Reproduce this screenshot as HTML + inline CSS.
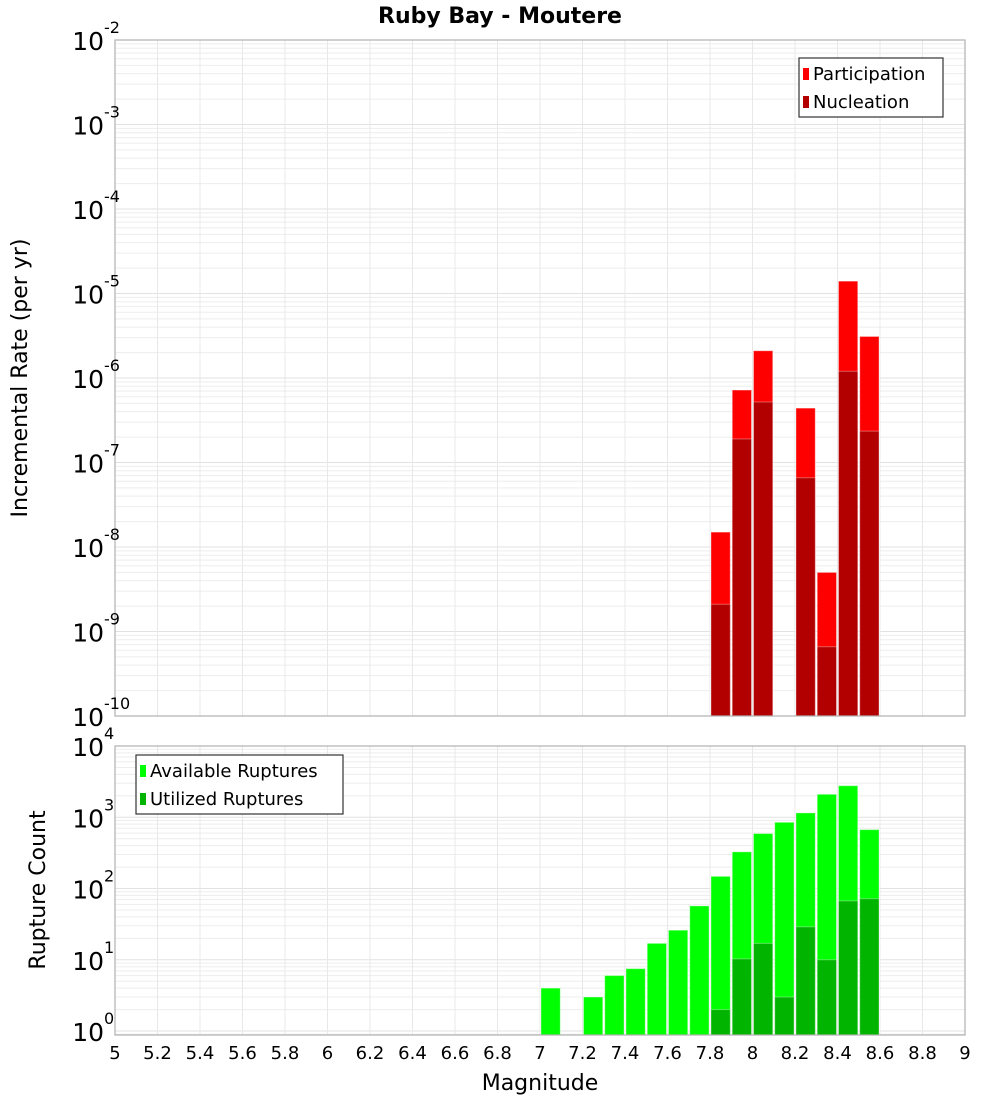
<!DOCTYPE html>
<html><head><meta charset="utf-8"><style>
body{margin:0;background:#fff;font-family:"DejaVu Sans","Liberation Sans",sans-serif;}
svg text{font-family:"DejaVu Sans","Liberation Sans",sans-serif;}
</style></head><body>
<svg id="chart" width="1000" height="1100" xmlns="http://www.w3.org/2000/svg"></svg>
<script>
const mags = [7.0,7.2,7.3,7.4,7.5,7.6,7.7,7.8,7.9,8.0,8.1,8.2,8.3,8.4,8.5];
const rateMags = [7.8,7.9,8.0,8.2,8.3,8.4,8.5];
const participation = [1.5e-8,7.2e-7,2.1e-6,4.4e-7,5e-9,1.4e-5,3.1e-6];
const nucleation = [2.1e-9,1.9e-7,5.2e-7,6.6e-8,6.6e-10,1.2e-6,2.35e-7];
const available = [4,3,6,7.5,17,26,57,148,327,590,850,1150,2100,2770,670];
const utilizedMags = [7.8,7.9,8.0,8.1,8.2,8.3,8.4,8.5];
const utilized = [2,10.3,17,3,29,10,67,72];
const xTicks = [5,5.2,5.4,5.6,5.8,6,6.2,6.4,6.6,6.8,7,7.2,7.4,7.6,7.8,8,8.2,8.4,8.6,8.8,9];
const topExps = [-2,-3,-4,-5,-6,-7,-8,-9,-10];
const botExps = [4,3,2,1,0];

const NS="http://www.w3.org/2000/svg";
const svg=document.getElementById('chart');
function el(tag,attrs,parent){const e=document.createElementNS(NS,tag);for(const k in attrs)e.setAttribute(k,attrs[k]);(parent||svg).appendChild(e);return e;}
const X0=115,X1=965;
const xs=m=>X0+(m-5)/4*(X1-X0);
const topY={y0:40,y1:716,lmin:-10,lmax:-2};
const botY={y0:746,y1:1035,lmin:Math.log10(0.88),lmax:4};
function ys(ax,v){return ax.y1-(Math.log10(v)-ax.lmin)/(ax.lmax-ax.lmin)*(ax.y1-ax.y0);}

function panel(ax,name){
  const g=el('g',{});
  
  
  el('rect',{x:X0,y:ax.y0,width:X1-X0,height:ax.y1-ax.y0,fill:'#fff'},g);
  for(let d=Math.floor(ax.lmin);d<ax.lmax;d++){
    for(let k=1;k<10;k++){const v=k*Math.pow(10,d);const lv=Math.log10(v);if(lv<ax.lmin||lv>ax.lmax)continue;
      const y=ys(ax,v);el('line',{x1:X0,x2:X1,y1:y,y2:y,stroke:k==1?'#e2e2e2':'#ededed','stroke-width':1},g);}
  }
  xTicks.forEach(t=>{const x=xs(t);el('line',{x1:x,x2:x,y1:ax.y0,y2:ax.y1,stroke:'#e8e8e8','stroke-width':1},g);});
}
function frame(ax,name){const r=el('rect',{x:X0,y:ax.y0,width:X1-X0,height:ax.y1-ax.y0,fill:'none',stroke:'#b0b0b0','stroke-width':1.2});
  }
function bars(ax,ms,vals,color,name){
  const g=el('g',{});
  ms.forEach((m,i)=>{const xa=xs(m)+1,xb=xs(m+0.1)-1;const y=ys(ax,vals[i]);
    const r=el('rect',{x:xa,y:y,width:xb-xa,height:ax.y1-y,fill:color,stroke:'rgba(255,255,255,0.35)','stroke-width':1},g);
    });
}
function yLabels(ax,exps,name){
  exps.forEach(e=>{const y=ys(ax,Math.pow(10,e));
    const t=el('text',{x:104,y:y+10,'text-anchor':'end','font-size':25,fill:'#000'});
    
    t.textContent='10';
    const s=el('text',{x:104,y:y-7,'font-size':16,fill:'#000'});
    
    s.textContent=String(e);});
}
function legend(x,y,w,items,name){
  const g=el('g',{});
  el('rect',{x:x,y:y,width:w,height:59,fill:'#fff',stroke:'#333','stroke-width':1.2},g);
  items.forEach((it,i)=>{const yy=y+15+i*28;
    el('rect',{x:x+4,y:yy-5,width:6,height:12,fill:it[1]},g);
    const t=el('text',{x:x+14,y:yy+7,'font-size':18,fill:'#000'},g);
    
    t.textContent=it[0];});
}
panel(topY,'top');panel(botY,'bottom');
bars(topY,rateMags,participation,'#ff0000','participation');
bars(topY,rateMags,nucleation,'#b20000','nucleation');
bars(botY,mags,available,'#00ff00','available');
bars(botY,utilizedMags,utilized,'#00b400','utilized');
frame(topY,'top');frame(botY,'bottom');
yLabels(topY,topExps,'top-y');yLabels(botY,botExps,'bottom-y');
xTicks.forEach(t=>{const tx=el('text',{x:xs(t),y:1059,'text-anchor':'middle','font-size':18,fill:'#000'});
  tx.textContent=String(t);});
legend(799,58,144,[['Participation','#ff0000'],['Nucleation','#b20000']],'rate-legend');
legend(136,755,207,[['Available Ruptures','#00ff00'],['Utilized Ruptures','#00b400']],'count-legend');
let t=el('text',{x:500,y:23,'text-anchor':'middle','font-size':22,'font-weight':'bold',fill:'#000'});
t.textContent='Ruby Bay - Moutere';
t=el('text',{x:540,y:1090,'text-anchor':'middle','font-size':22,fill:'#000'});
t.textContent='Magnitude';
t=el('text',{x:0,y:0,'text-anchor':'middle','font-size':22,fill:'#000',transform:'translate(27,378) rotate(-90)'});
t.textContent='Incremental Rate (per yr)';
t=el('text',{x:0,y:0,'text-anchor':'middle','font-size':22,fill:'#000',transform:'translate(45,890) rotate(-90)'});
t.textContent='Rupture Count';
</script>
</body></html>
